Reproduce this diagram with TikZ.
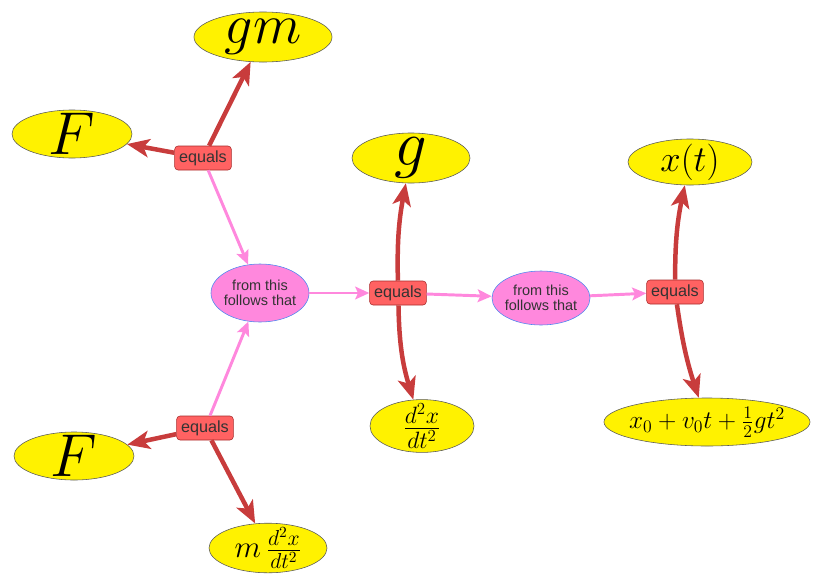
\documentclass[tikz,border=0pt]{standalone}
\usepackage{fix-cm}
\usepackage{fontspec}
\setsansfont{Liberation Sans}
\usetikzlibrary{shapes.geometric,arrows.meta}

\definecolor{eqfill}{HTML}{FF6262}
\definecolor{eqline}{HTML}{A82A2A}
\definecolor{flfill}{HTML}{FF88DD}
\definecolor{flline}{HTML}{4A86F0}
\definecolor{relred}{HTML}{C83C3C}
\definecolor{txtgrey}{HTML}{333333}

\tikzset{
  term/.style={ellipse, draw=black!65, fill=yellow, inner sep=0pt},
  eqbox/.style={rectangle, rounded corners=2.5pt, draw=eqline, fill=eqfill, text=txtgrey,
    font=\sffamily\fontsize{11.5}{12}\selectfont, minimum width=1.42cm, minimum height=0.6cm, inner sep=1pt},
  follows/.style={ellipse, draw=flline, fill=flfill, text=txtgrey, align=center,
    font=\sffamily\fontsize{10.3}{10.5}\selectfont, inner sep=-2pt, minimum width=2.45cm, minimum height=1.45cm},
  rel/.style={draw=relred, line width=3.2pt, -{Stealth[length=16pt,width=13pt,inset=4pt]}},
  link/.style={draw=flfill, line width=2.1pt, -{Stealth[length=10pt,width=9pt,inset=2pt]}},
}

\begin{document}
\begin{tikzpicture}[x=0.025cm, y=-0.025cm]
    \useasboundingbox (0,0) rectangle (816,580);

    % Top left: F = gm
    \node[term, minimum width=3.45cm, minimum height=1.25cm, inner sep=-1pt] (gm) at (263,37) {\fontsize{40}{40}\selectfont $gm$};
    \node[term, minimum width=3cm, minimum height=1.2cm, inner sep=-3pt] (Ftop) at (72,134) {\fontsize{43}{43}\selectfont $F$};
    \node[eqbox] (eqa) at (203,158) {equals};

    % Bottom left: F = m x''
    \node[term, minimum width=3cm, minimum height=1.2cm, inner sep=-3pt] (Fbot) at (74,456) {\fontsize{43}{43}\selectfont $F$};
    \node[term, minimum width=2.95cm, minimum height=1.2cm, inner sep=-2pt] (mx) at (268,548) {\fontsize{22}{22}\selectfont $m\,\frac{d^2x}{dt^2}$};
    \node[eqbox] (eqb) at (205,428) {equals};

    % Middle: g = x''
    \node[follows] (fla) at (260,293) {from this\\follows that};
    \node[eqbox] (eqc) at (398,293) {equals};
    \node[term, minimum width=2.95cm, minimum height=1.25cm, inner sep=-3pt] (g) at (411,158) {\fontsize{46}{46}\selectfont $g$};
    \node[term, minimum width=2.6cm, minimum height=1.2cm, inner sep=-2.5pt] (xdd) at (422,426) {\fontsize{24}{24}\selectfont $\frac{d^2x}{dt^2}$};

    % Right: x(t)
    \node[follows, minimum height=1.35cm] (flb) at (541,298) {from this\\follows that};
    \node[eqbox] (eqd) at (675,292) {equals};
    \node[term, minimum width=3.1cm, minimum height=1.15cm, inner sep=-2.5pt] (xt) at (690,162) {\fontsize{26}{26}\selectfont $x(t)$};
    \node[term, minimum width=5.15cm, minimum height=1.2cm, inner sep=-4pt] (sol) at (707,422) {\fontsize{18}{18}\selectfont $x_0+v_0t+\frac{1}{2}gt^2$};

    % Relations
    \draw[rel] (eqa) -- (gm);
    \draw[rel] (eqa) -- (Ftop);
    \draw[rel] (eqb) -- (Fbot);
    \draw[rel] (eqb) -- (mx);
    \draw[rel] (eqc) to[bend left=6] (g);
    \draw[rel] (eqc) to[bend right=8] (xdd);
    \draw[rel] (eqd) to[bend left=6] (xt);
    \draw[rel] (eqd) to[bend right=5] (sol);

    % Inference links
    \draw[link] (eqa) -- (fla);
    \draw[link] (eqb) -- (fla);
    \draw[link] (fla) -- (eqc);
    \draw[link] (eqc) -- (flb);
    \draw[link] (flb) -- (eqd);
\end{tikzpicture}
\end{document}
